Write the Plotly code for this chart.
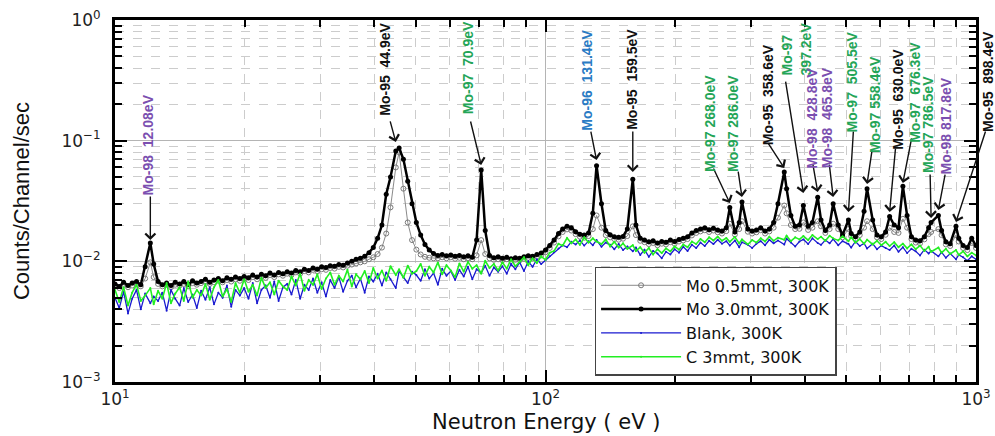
import math
import plotly.graph_objects as go

# ---------------- data ----------------
energy_eV = [
    10.0, 10.23, 10.47, 10.72, 10.96, 11.22, 11.48, 11.75, 12.08, 12.30,
    12.59, 12.88, 13.18, 13.49, 13.80, 14.13, 14.45, 14.79, 15.14, 15.49,
    15.85, 16.22, 16.60, 16.98, 17.38, 17.78, 18.20, 18.62, 19.05, 19.50,
    19.95, 20.42, 20.89, 21.38, 21.88, 22.39, 22.91, 23.44, 23.99, 24.55,
    25.12, 25.70, 26.30, 26.92, 27.54, 28.18, 28.84, 29.51, 30.20, 30.90,
    31.62, 32.36, 33.11, 33.88, 34.67, 35.48, 36.31, 37.15, 38.02, 38.90,
    39.81, 40.74, 41.69, 42.66, 43.65, 44.90, 45.71, 46.77, 47.86, 48.98,
    50.12, 51.29, 52.48, 53.70, 54.95, 56.23, 57.54, 58.88, 60.26, 61.66,
    63.10, 64.57, 66.07, 67.61, 69.18, 70.90, 72.44, 74.13, 75.86, 77.62,
    79.43, 81.28, 83.18, 85.11, 87.10, 89.13, 91.20, 93.33, 95.50, 97.72,
    100.0, 102.3, 104.7, 107.2, 109.6, 112.2, 114.8, 117.5, 120.2, 123.0,
    125.9, 128.8, 131.4, 134.9, 138.0, 141.3, 144.5, 147.9, 151.4, 154.9,
    159.5, 162.2, 166.0, 169.8, 173.8, 177.8, 182.0, 186.2, 190.5, 195.0,
    199.5, 204.2, 208.9, 213.8, 218.8, 223.9, 229.1, 234.4, 239.9, 245.5,
    251.2, 257.0, 263.0, 268.0, 275.4, 281.8, 286.0, 295.1, 302.0, 309.0,
    316.2, 323.6, 331.1, 338.8, 346.7, 358.6, 363.1, 371.5, 380.2, 389.0,
    397.2, 407.4, 416.9, 428.8, 436.5, 446.7, 457.1, 465.8, 478.6, 489.8,
    505.5, 512.9, 524.8, 537.0, 549.5, 558.4, 575.4, 588.8, 602.6, 616.6,
    630.0, 645.7, 660.7, 676.3, 691.8, 707.9, 724.4, 741.3, 758.6, 776.2,
    786.5, 817.8, 831.8, 851.1, 871.0, 898.4, 912.0, 933.3, 955.0, 977.2,
    1000.0,
]

mo_05mmt = [
    0.0063, 0.0060, 0.0064, 0.0061, 0.0063, 0.0065, 0.0062, 0.0072, 0.0098, 0.0074,
    0.0065, 0.0062, 0.0064, 0.0061, 0.0064, 0.0063, 0.0065, 0.0062, 0.0066, 0.0064,
    0.0066, 0.0068, 0.0065, 0.0067, 0.0069, 0.0067, 0.0070, 0.0068, 0.0071, 0.0069,
    0.0072, 0.0070, 0.0074, 0.0071, 0.0075, 0.0073, 0.0077, 0.0074, 0.0078, 0.0076,
    0.0079, 0.0077, 0.0081, 0.0079, 0.0083, 0.0081, 0.0085, 0.0083, 0.0086, 0.0085,
    0.0088, 0.0087, 0.0090, 0.0089, 0.0092, 0.0094, 0.0096, 0.0098, 0.0100, 0.0104,
    0.0108, 0.0115, 0.0130, 0.0170, 0.0280, 0.0600, 0.0800, 0.0400, 0.0210, 0.0150,
    0.0125, 0.0114, 0.0109, 0.0107, 0.0106, 0.0106, 0.0108, 0.0106, 0.0108, 0.0105,
    0.0107, 0.0104, 0.0106, 0.0104, 0.0112, 0.0150, 0.0115, 0.0106, 0.0103, 0.0104,
    0.0102, 0.0104, 0.0101, 0.0103, 0.0102, 0.0105, 0.0107, 0.0106, 0.0109, 0.0112,
    0.0119, 0.0129, 0.0143, 0.0161, 0.0175, 0.0184, 0.0180, 0.0168, 0.0160, 0.0157,
    0.0162, 0.0185, 0.0240, 0.0190, 0.0165, 0.0158, 0.0153, 0.0151, 0.0154, 0.0162,
    0.0195, 0.0165, 0.0148, 0.0144, 0.0139, 0.0142, 0.0136, 0.0140, 0.0138, 0.0144,
    0.0140, 0.0146, 0.0149, 0.0153, 0.0164, 0.0172, 0.0177, 0.0181, 0.0175, 0.0180,
    0.0174, 0.0170, 0.0178, 0.0205, 0.0167, 0.0185, 0.0215, 0.0176, 0.0170, 0.0174,
    0.0181, 0.0170, 0.0177, 0.0190, 0.0230, 0.0290, 0.0250, 0.0200, 0.0185, 0.0186,
    0.0210, 0.0182, 0.0190, 0.0215, 0.0195, 0.0172, 0.0185, 0.0205, 0.0185, 0.0158,
    0.0185, 0.0162, 0.0153, 0.0165, 0.0190, 0.0215, 0.0185, 0.0158, 0.0153, 0.0166,
    0.0190, 0.0175, 0.0172, 0.0225, 0.0190, 0.0153, 0.0143, 0.0141, 0.0152, 0.0168,
    0.0175, 0.0185, 0.0165, 0.0138, 0.0134, 0.0165, 0.0146, 0.0129, 0.0124, 0.0142,
    0.0129,
]

mo_30mmt = [
    0.0065, 0.0062, 0.0067, 0.0063, 0.0066, 0.0068, 0.0064, 0.0090, 0.0142, 0.0095,
    0.0068, 0.0064, 0.0066, 0.0063, 0.0067, 0.0065, 0.0068, 0.0064, 0.0069, 0.0066,
    0.0068, 0.0071, 0.0067, 0.0070, 0.0072, 0.0069, 0.0073, 0.0071, 0.0074, 0.0072,
    0.0075, 0.0073, 0.0077, 0.0074, 0.0078, 0.0076, 0.0080, 0.0077, 0.0081, 0.0079,
    0.0082, 0.0080, 0.0084, 0.0082, 0.0086, 0.0084, 0.0088, 0.0086, 0.0090, 0.0089,
    0.0092, 0.0091, 0.0094, 0.0093, 0.0097, 0.0100, 0.0104, 0.0106, 0.0110, 0.0118,
    0.0130, 0.0155, 0.0200, 0.0360, 0.0500, 0.0820, 0.0870, 0.0700, 0.0460, 0.0300,
    0.0210, 0.0165, 0.0138, 0.0124, 0.0116, 0.0112, 0.0114, 0.0111, 0.0113, 0.0110,
    0.0112, 0.0109, 0.0111, 0.0108, 0.0150, 0.0570, 0.0180, 0.0112, 0.0107, 0.0109,
    0.0106, 0.0108, 0.0105, 0.0107, 0.0106, 0.0109, 0.0111, 0.0110, 0.0114, 0.0117,
    0.0124, 0.0135, 0.0150, 0.0170, 0.0185, 0.0195, 0.0190, 0.0176, 0.0168, 0.0165,
    0.0172, 0.0250, 0.0620, 0.0300, 0.0180, 0.0166, 0.0160, 0.0158, 0.0161, 0.0185,
    0.0480, 0.0200, 0.0155, 0.0150, 0.0145, 0.0148, 0.0142, 0.0146, 0.0144, 0.0150,
    0.0146, 0.0152, 0.0155, 0.0160, 0.0172, 0.0180, 0.0185, 0.0190, 0.0183, 0.0188,
    0.0182, 0.0178, 0.0190, 0.0280, 0.0175, 0.0210, 0.0310, 0.0185, 0.0178, 0.0182,
    0.0190, 0.0178, 0.0185, 0.0210, 0.0300, 0.0550, 0.0400, 0.0240, 0.0195, 0.0200,
    0.0290, 0.0195, 0.0210, 0.0340, 0.0220, 0.0180, 0.0200, 0.0300, 0.0200, 0.0165,
    0.0220, 0.0170, 0.0160, 0.0175, 0.0260, 0.0400, 0.0220, 0.0165, 0.0160, 0.0175,
    0.0235, 0.0200, 0.0190, 0.0420, 0.0240, 0.0160, 0.0150, 0.0148, 0.0160, 0.0190,
    0.0210, 0.0240, 0.0180, 0.0145, 0.0140, 0.0195, 0.0155, 0.0135, 0.0130, 0.0155,
    0.0135,
]

blank = [
    0.0050, 0.0041, 0.0056, 0.0037, 0.0049, 0.0058, 0.0040, 0.0054, 0.0045, 0.0051,
    0.0047, 0.0055, 0.0039, 0.0058, 0.0049, 0.0043, 0.0060, 0.0046, 0.0053, 0.0041,
    0.0057, 0.0048, 0.0061, 0.0044, 0.0055, 0.0050, 0.0063, 0.0042, 0.0058, 0.0052,
    0.0060, 0.0049, 0.0066, 0.0045, 0.0058, 0.0063, 0.0050, 0.0068, 0.0047, 0.0061,
    0.0065, 0.0053, 0.0070, 0.0049, 0.0064, 0.0058, 0.0072, 0.0055, 0.0067, 0.0051,
    0.0070, 0.0060, 0.0074, 0.0056, 0.0069, 0.0076, 0.0061, 0.0072, 0.0055, 0.0075,
    0.0068, 0.0079, 0.0063, 0.0081, 0.0071, 0.0060, 0.0083, 0.0074, 0.0066, 0.0082,
    0.0077, 0.0069, 0.0086, 0.0072, 0.0080, 0.0064, 0.0087, 0.0076, 0.0083, 0.0070,
    0.0085, 0.0075, 0.0090, 0.0071, 0.0086, 0.0080, 0.0092, 0.0076, 0.0089, 0.0082,
    0.0091, 0.0079, 0.0095, 0.0086, 0.0098, 0.0083, 0.0100, 0.0090, 0.0104, 0.0095,
    0.0102, 0.0110, 0.0119, 0.0128, 0.0136, 0.0131, 0.0145, 0.0138, 0.0149, 0.0135,
    0.0147, 0.0136, 0.0150, 0.0132, 0.0143, 0.0137, 0.0126, 0.0139, 0.0124, 0.0133,
    0.0121, 0.0130, 0.0113, 0.0125, 0.0109, 0.0122, 0.0116, 0.0106, 0.0120, 0.0114,
    0.0126, 0.0118, 0.0132, 0.0122, 0.0137, 0.0129, 0.0143, 0.0134, 0.0148, 0.0139,
    0.0151, 0.0140, 0.0147, 0.0135, 0.0149, 0.0131, 0.0144, 0.0137, 0.0129, 0.0140,
    0.0147, 0.0136, 0.0151, 0.0141, 0.0149, 0.0138, 0.0154, 0.0143, 0.0133, 0.0146,
    0.0152, 0.0139, 0.0155, 0.0142, 0.0137, 0.0150, 0.0141, 0.0153, 0.0136, 0.0147,
    0.0139, 0.0130, 0.0146, 0.0134, 0.0141, 0.0128, 0.0140, 0.0126, 0.0135, 0.0129,
    0.0124, 0.0135, 0.0120, 0.0131, 0.0117, 0.0127, 0.0121, 0.0112, 0.0125, 0.0116,
    0.0122, 0.0110, 0.0119, 0.0107, 0.0116, 0.0104, 0.0113, 0.0108, 0.0101, 0.0110,
    0.0104,
]

c_3mmt = [
    0.0058, 0.0046, 0.0061, 0.0043, 0.0055, 0.0064, 0.0047, 0.0052, 0.0060, 0.0044,
    0.0057, 0.0049, 0.0066, 0.0045, 0.0054, 0.0061, 0.0047, 0.0068, 0.0050, 0.0058,
    0.0052, 0.0065, 0.0048, 0.0061, 0.0070, 0.0051, 0.0059, 0.0046, 0.0066, 0.0055,
    0.0071, 0.0056, 0.0064, 0.0052, 0.0073, 0.0060, 0.0067, 0.0053, 0.0069, 0.0062,
    0.0058, 0.0075, 0.0063, 0.0079, 0.0057, 0.0070, 0.0064, 0.0078, 0.0059, 0.0072,
    0.0081, 0.0064, 0.0076, 0.0068, 0.0085, 0.0062, 0.0078, 0.0071, 0.0083, 0.0066,
    0.0088, 0.0072, 0.0084, 0.0069, 0.0091, 0.0077, 0.0086, 0.0073, 0.0092, 0.0079,
    0.0083, 0.0095, 0.0076, 0.0090, 0.0081, 0.0098, 0.0078, 0.0093, 0.0084, 0.0074,
    0.0096, 0.0082, 0.0099, 0.0087, 0.0093, 0.0079, 0.0101, 0.0088, 0.0095, 0.0084,
    0.0098, 0.0087, 0.0104, 0.0091, 0.0099, 0.0108, 0.0093, 0.0106, 0.0097, 0.0110,
    0.0103, 0.0118, 0.0122, 0.0140, 0.0135, 0.0156, 0.0141, 0.0152, 0.0137, 0.0158,
    0.0143, 0.0155, 0.0146, 0.0139, 0.0152, 0.0133, 0.0145, 0.0130, 0.0141, 0.0127,
    0.0136, 0.0122, 0.0131, 0.0118, 0.0129, 0.0114, 0.0126, 0.0117, 0.0128, 0.0121,
    0.0133, 0.0125, 0.0138, 0.0131, 0.0146, 0.0139, 0.0153, 0.0144, 0.0158, 0.0149,
    0.0160, 0.0148, 0.0156, 0.0145, 0.0159, 0.0141, 0.0152, 0.0138, 0.0150, 0.0143,
    0.0155, 0.0146, 0.0160, 0.0148, 0.0157, 0.0151, 0.0163, 0.0147, 0.0158, 0.0152,
    0.0162, 0.0150, 0.0165, 0.0153, 0.0160, 0.0148, 0.0163, 0.0155, 0.0149, 0.0161,
    0.0147, 0.0158, 0.0143, 0.0153, 0.0140, 0.0151, 0.0138, 0.0148, 0.0136, 0.0145,
    0.0134, 0.0144, 0.0131, 0.0140, 0.0128, 0.0138, 0.0126, 0.0135, 0.0122, 0.0132,
    0.0120, 0.0130, 0.0118, 0.0127, 0.0115, 0.0124, 0.0113, 0.0121, 0.0110, 0.0118,
    0.0112,
]

# resonance labels
peak_isotope = ["Mo-98", "Mo-95", "Mo-97", "Mo-96", "Mo-95", "Mo-97", "Mo-97", "Mo-95", "Mo-97",
                "Mo-98", "Mo-98", "Mo-97", "Mo-97", "Mo-95", "Mo-97", "Mo-97", "Mo-98", "Mo-95"]
peak_label = ["Mo-98  12.08eV", "Mo-95  44.9eV", "Mo-97  70.9eV", "Mo-96  131.4eV",
              "Mo-95  159.5eV", "Mo-97 268.0eV", "Mo-97 286.0eV", "Mo-95  358.6eV",
              "Mo-97<br>397.2eV", "Mo-98  428.8eV", "Mo-98  465.8eV", "Mo-97  505.5eV",
              "Mo-97 558.4eV", "Mo-95  630.0eV", "Mo-97  676.3eV", "Mo-97 786.5eV",
              "Mo-98 817.8eV", "Mo-95  898.4eV"]
peak_energy = [12.08, 44.9, 70.9, 131.4, 159.5, 268.0, 286.0, 358.6, 397.2,
               428.8, 465.8, 505.5, 558.4, 630.0, 676.3, 786.5, 817.8, 898.4]
arrow_tip = [0.0150, 0.0977, 0.0629, 0.069, 0.055, 0.0304, 0.0341, 0.0594, 0.0368,
             0.0375, 0.0341, 0.0256, 0.0437, 0.0256, 0.0446, 0.0229, 0.0266, 0.0212]

legend_names = ["Mo 0.5mmt, 300K", "Mo 3.0mmt, 300K", "Blank, 300K", "C 3mmt, 300K"]
x_title = "Neutron Energy ( eV )"
y_title = "Counts/Channel/sec"

# ---------------- styling ----------------
iso_color = {"Mo-98": "#7b4fb0", "Mo-97": "#24a557", "Mo-96": "#2a7bc4", "Mo-95": "#111111"}
arrow_tail = [(0, -45), (-6, -22), (-11, -45), (-6, -30), (0, -42), (-17, -36),
              (-4, -27), (-17, -26), (-18, -113), (-5, -29), (-4, -34), (5, -82),
              (5, -34), (6, -65), (9, -46), (-1, -45), (7, -37), (30, -92)]
text_shift = [(-2, 95), (-11, 73), (-13, 97), (-9, 80), (-1, 93), (-20, 80),
              (-9, 74), (-16, 73), (-7, 144), (-6, 74), (-6, 79), (4, 130),
              (8, 79), (8, 113), (12, 91), (-3, 93), (8, 84), (32, 141)]

fig = go.Figure()

fig.add_trace(go.Scatter(
    x=energy_eV, y=mo_05mmt, name=legend_names[0], legendrank=1, mode="lines+markers",
    line=dict(color="#8a8a8a", width=1),
    marker=dict(size=5, symbol="circle-open", color="#7a7a7a", line=dict(width=1))))
fig.add_trace(go.Scatter(
    x=energy_eV, y=mo_30mmt, name=legend_names[1], legendrank=2, mode="lines+markers",
    line=dict(color="black", width=2.5), marker=dict(size=5, color="black")))
fig.add_trace(go.Scatter(
    x=energy_eV, y=blank, name=legend_names[2], legendrank=3, mode="lines+markers",
    line=dict(color="#1a1ad0", width=1.3), marker=dict(size=2, color="#1a1ad0")))
fig.add_trace(go.Scatter(
    x=energy_eV, y=c_3mmt, name=legend_names[3], legendrank=4, mode="lines+markers",
    line=dict(color="#22ee22", width=1.6), marker=dict(size=2, color="#22ee22")))

annotations = []
for iso, lab, e, ty, (ax, ay), (xs, ys) in zip(peak_isotope, peak_label, peak_energy,
                                               arrow_tip, arrow_tail, text_shift):
    annotations.append(dict(
        x=math.log10(e), y=math.log10(ty), xref="x", yref="y", text="",
        showarrow=True, ax=ax, ay=ay, arrowhead=4, arrowsize=1.4, arrowwidth=1.4,
        arrowcolor="#111"))
    annotations.append(dict(
        x=math.log10(e), y=math.log10(ty), xref="x", yref="y", text=lab,
        showarrow=False, textangle=-90, xshift=xs, yshift=ys, align="left",
        font=dict(family="Liberation Sans Narrow, Arial Narrow, Liberation Sans",
                  size=14, color=iso_color[iso], weight="bold")))

# x-axis title placed just under the tick labels
annotations.append(dict(
    x=0.5, y=0, xref="paper", yref="paper", yanchor="top", xanchor="center",
    yshift=-26, showarrow=False, text=x_title,
    font=dict(family="DejaVu Sans", size=21, color="#111")))

tick_font = dict(family="DejaVu Sans", size=17, color="#222")

fig.update_layout(
    width=995, height=436,
    margin=dict(l=115, r=19, t=20, b=54, autoexpand=False),
    paper_bgcolor="white", plot_bgcolor="white",
    showlegend=True,
    legend=dict(x=0.557, y=0.318, xanchor="left", yanchor="top", bgcolor="white",
                bordercolor="#444", borderwidth=1.5, itemwidth=80, tracegroupgap=0,
                font=dict(family="DejaVu Sans", size=16, color="#111")),
    annotations=annotations,
)

fig.update_xaxes(
    type="log", range=[1, 3],
    tickvals=[10, 100, 1000],
    ticktext=["10<sup>1</sup>", "10<sup>2</sup>", "10<sup>3</sup>"],
    tickfont=tick_font, ticks="inside", ticklen=12, tickwidth=2, tickcolor="black",
    ticklabelstandoff=0,
    showline=True, linecolor="black", linewidth=2.5, mirror="ticks",
    showgrid=True, gridcolor="#b4b4b4", gridwidth=1,
    minor=dict(dtick="D1", ticks="inside", ticklen=7, tickwidth=1.5, tickcolor="black",
               showgrid=True, gridcolor="#cccccc", griddash="dash", gridwidth=1),
    zeroline=False,
)
fig.update_yaxes(
    type="log", range=[-3, 0],
    tickvals=[0.001, 0.01, 0.1, 1],
    ticktext=["10<sup>\u22123</sup>", "10<sup>\u22122</sup>", "10<sup>\u22121</sup>", "10<sup>0</sup>"],
    tickfont=tick_font, ticks="inside", ticklen=12, tickwidth=2, tickcolor="black",
    ticklabelstandoff=8,
    showline=True, linecolor="black", linewidth=3, mirror="ticks",
    showgrid=True, gridcolor="#b4b4b4", gridwidth=1,
    minor=dict(dtick="D1", ticks="inside", ticklen=7, tickwidth=1.5, tickcolor="black",
               showgrid=True, gridcolor="#cccccc", griddash="dash", gridwidth=1),
    title=dict(text=y_title, standoff=26,
               font=dict(family="Liberation Sans Narrow, Arial Narrow, Liberation Sans",
                         size=22, color="#111")),
    zeroline=False,
)

# remove the page's default body margin so the figure fills the 995x436 window exactly
fig.write_html("out.html", config={"displayModeBar": False},
               post_script="document.body.style.margin='0';")
